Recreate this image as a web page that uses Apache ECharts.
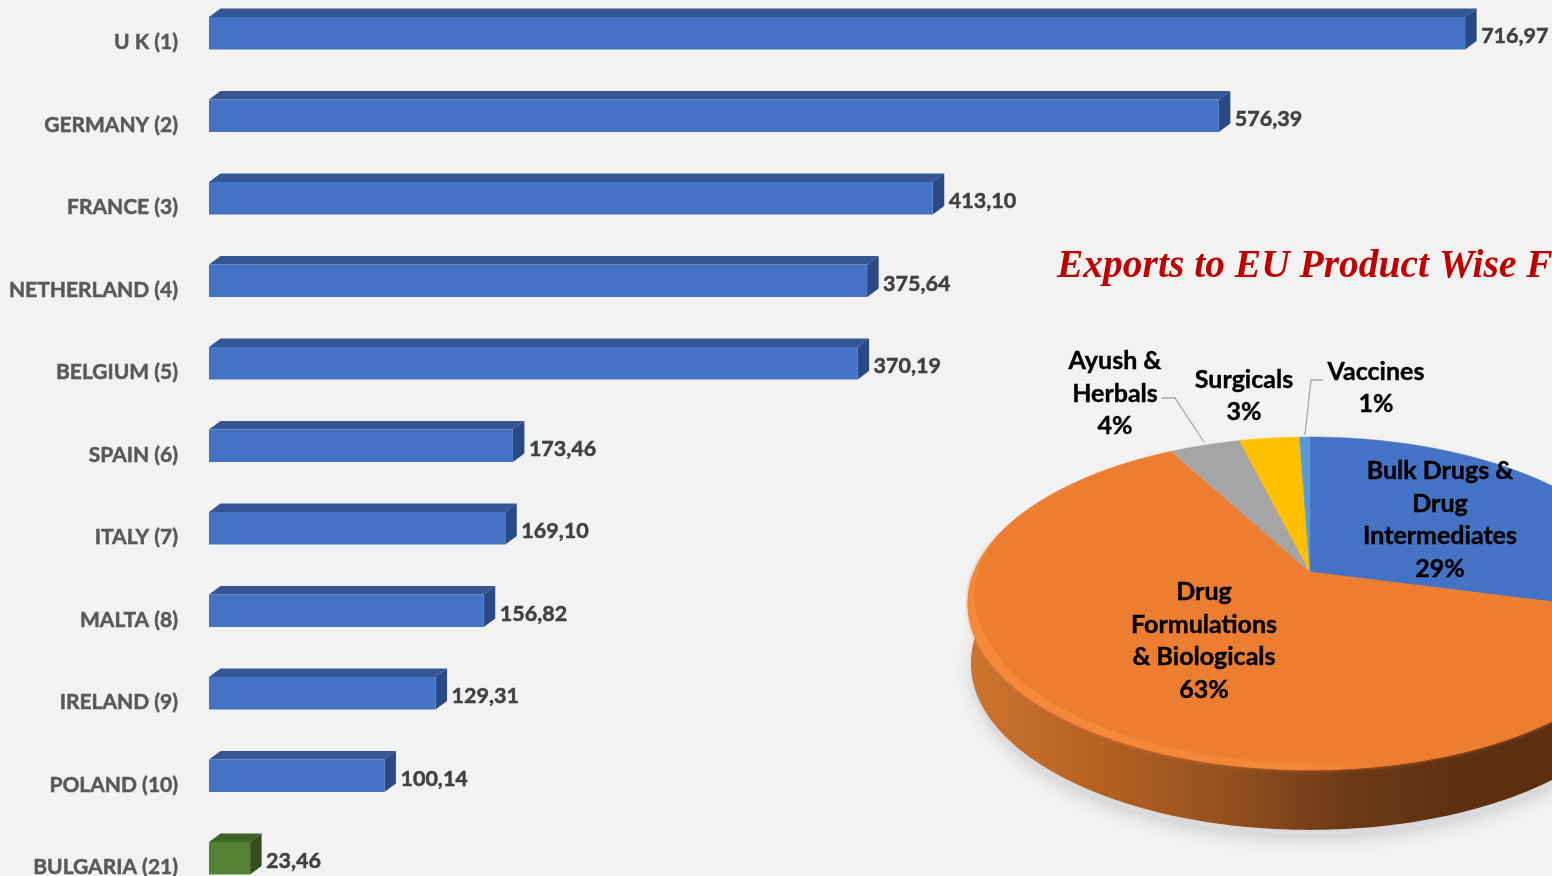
<!DOCTYPE html>
<html><head><meta charset="utf-8">
<style>html,body{margin:0;padding:0;background:#f2f2f2;overflow:hidden}#c{width:1552px;height:876px}</style>
<script src="https://cdn.jsdelivr.net/npm/echarts@6/dist/echarts.min.js"></script>
</head><body><div id="c"></div>
<script>
// ---- data ----
const countries = ['U K (1)','GERMANY (2)','FRANCE (3)','NETHERLAND (4)','BELGIUM (5)','SPAIN (6)','ITALY (7)','MALTA (8)','IRELAND (9)','POLAND (10)','BULGARIA (21)'];
const exportValues = [716.97,576.39,413.10,375.64,370.19,173.46,169.10,156.82,129.31,100.14,23.46];
const highlightedCountries = ['BULGARIA (21)'];
const productNames = ['Bulk Drugs &\nDrug\nIntermediates','Drug\nFormulations\n& Biologicals','Ayush &\nHerbals','Surgicals','Vaccines'];
const productShares = [29,63,4,3.4,0.6];
const productLabels = ['29%','63%','4%','3%','1%'];
const productColors = ['#4472c4','#ed7d31','#a5a5a5','#ffc000','#5b9bd5'];
const chartTitle = 'Exports to EU Product Wise F';

// ---- layout ----
const FONT = 'Lato';
const PIE = {cx:1310, cy:572, a:336, b:160.5, k:0.189, depth:60, bottomA:333};
const labelAnchors = [[1440,520],[1204,641],[1115,393.5],[1244,396],[1376,388]];
const leaderFor = {2:[[1162,398],[1175,398],[1204,442]],4:[[1323,380],[1311,380],[1305,435]]};

function rad(d){return d*Math.PI/180;}
function project(tDeg,r,a,cy){
  const u=r*Math.sin(rad(tDeg)), v=r*Math.cos(rad(tDeg)), w=1+PIE.k*v;
  return [PIE.cx+a*u/w, cy-PIE.b*v/w];
}
function arc(from,to,r,a,cy){
  const pts=[], n=Math.max(2,Math.ceil(Math.abs(to-from)));
  for(let i=0;i<=n;i++) pts.push(project(from+(to-from)*i/n,r,a,cy));
  return pts;
}
const total = productShares.reduce((s,v)=>s+v,0);
function sliceStart(i){let s=0;for(let j=0;j<i;j++)s+=productShares[j];return s/total*360;}

const chart = echarts.init(document.getElementById('c'),null,{renderer:'canvas'});
const depthX=11.5, depthY=8.5, barH=32.5, barShift=-9;

function renderBar(params,api){
  const val=api.value(0), idx=api.value(1);
  const p0=api.coord([0,idx]), p1=api.coord([val,idx]);
  const yMid=p0[1]+barShift, y0=yMid-barH/2, y1=yMid+barH/2, x0=p0[0], x1=p1[0];
  const hi=highlightedCountries.includes(countries[idx]);
  const front=hi?'#548235':'#4472c4', top=hi?'#3f6227':'#345694', side=hi?'#334f20':'#2a4a86';
  return {type:'group',children:[
    {type:'polygon',shape:{points:[[x0,y0],[x0+depthX,y0-depthY],[x1+depthX,y0-depthY],[x1,y0]]},style:{fill:top}},
    {type:'polygon',shape:{points:[[x1,y0],[x1+depthX,y0-depthY],[x1+depthX,y1-depthY],[x1,y1]]},style:{fill:side}},
    {type:'rect',shape:{x:x0,y:y0,width:x1-x0,height:y1-y0},style:{fill:front}},
    {type:'text',style:{text:val.toFixed(2).replace('.',','),x:x1+16,y:p0[1]-6,align:'left',verticalAlign:'middle',
      font:'bold 21.5px '+FONT,fill:'#404040',stroke:'#404040',lineWidth:0.5}}
  ]};
}
function renderSlice(params,api){
  const i=params.dataIndex, s=sliceStart(i), e=s+api.value(0)/total*360;
  const pts=[[PIE.cx,PIE.cy]].concat(arc(s,e,1,PIE.a,PIE.cy));
  return {type:'polygon',shape:{points:pts},style:{fill:productColors[i],stroke:productColors[i],lineWidth:0.5}};
}
function renderBody(){
  const top=arc(70,292,1,PIE.a,PIE.cy), bot=arc(292,70,1,PIE.bottomA,PIE.cy+PIE.depth);
  const full=arc(0,360,1,PIE.bottomA-2,PIE.cy+PIE.depth+8);
  return {type:'group',children:[
    {type:'polygon',shape:{points:full},style:{fill:'#dadada',shadowBlur:18,shadowColor:'#c8c8c8'}},
    {type:'polygon',shape:{points:top.concat(bot)},style:{fill:new echarts.graphic.LinearGradient(968,0,1652,0,[
      {offset:0,color:'#cc7530'},{offset:0.2,color:'#b56021'},{offset:0.4,color:'#8f4e1e'},
      {offset:0.55,color:'#6d3a16'},{offset:0.7,color:'#5f3113'},{offset:1,color:'#5a2d10'}],true)}}
  ]};
}
function renderRim(){
  const outer=arc(108,285,1,PIE.a,PIE.cy), inner=[];
  for(let t=285;t>=108;t-=2){
    const f=Math.min(1,(285-t)/40);
    inner.push(project(t,1-0.03*f,PIE.a,PIE.cy));
  }
  const grad=new echarts.graphic.LinearGradient(968,0,1552,0,[
    {offset:0,color:'#f5883a'},{offset:0.55,color:'#f38639'},{offset:0.72,color:'#ed7d31'},{offset:1,color:'#ed7d31'}],true);
  return {type:'polygon',shape:{points:outer.concat(inner)},style:{fill:grad,shadowBlur:4,shadowColor:'rgba(237,125,49,0.75)'}};
}
function renderLabel(params){
  const i=params.dataIndex, anchor=labelAnchors[i], kids=[];
  const text=productNames[i]+'\n'+productLabels[i];
  kids.push({type:'text',style:{text:text,x:anchor[0],y:anchor[1],align:'center',verticalAlign:'middle',
    font:'bold 25px '+FONT,lineHeight:32.4,fill:'#000',stroke:'#000',lineWidth:0.4}});
  if(leaderFor[i]) kids.push({type:'polyline',shape:{points:leaderFor[i]},style:{stroke:'#a6a6a6',lineWidth:1.3,fill:null}});
  return {type:'group',children:kids};
}

chart.setOption({
  animation:false,
  backgroundColor:'#f2f2f2',
  title:{text:chartTitle,left:1057,top:247,padding:0,textStyle:{fontFamily:'Liberation Serif',fontSize:39.5,fontWeight:'bold',fontStyle:'italic',color:'#c00000'}},
  grid:{left:209,top:1,width:1401.6,height:907.5,containLabel:false,outerBoundsMode:'none'},
  xAxis:{type:'value',min:0,max:800,show:false},
  yAxis:{type:'category',inverse:true,data:countries,
    axisLine:{show:false},axisTick:{show:false},splitLine:{show:false},
    axisLabel:{margin:31,fontFamily:FONT,fontWeight:'bold',fontSize:21,color:'#595959',textBorderColor:'#595959',textBorderWidth:0.5}},
  series:[
    {type:'custom',name:'Exports',coordinateSystem:'cartesian2d',clip:false,silent:true,
      encode:{x:0,y:1},data:exportValues.map((v,i)=>[v,i]),renderItem:renderBar},
    {type:'custom',name:'PieBody',coordinateSystem:'none',silent:true,data:[1],renderItem:renderBody,z:2},
    {type:'custom',name:'Product share',coordinateSystem:'none',silent:true,data:productShares.map(v=>[v]),renderItem:renderSlice,z:3},
    {type:'custom',name:'PieRim',coordinateSystem:'none',silent:true,data:[1],renderItem:renderRim,z:4},
    {type:'custom',name:'Labels',coordinateSystem:'none',silent:true,data:productShares.map(v=>[v]),renderItem:renderLabel,z:5}
  ]
});
</script></body></html>
